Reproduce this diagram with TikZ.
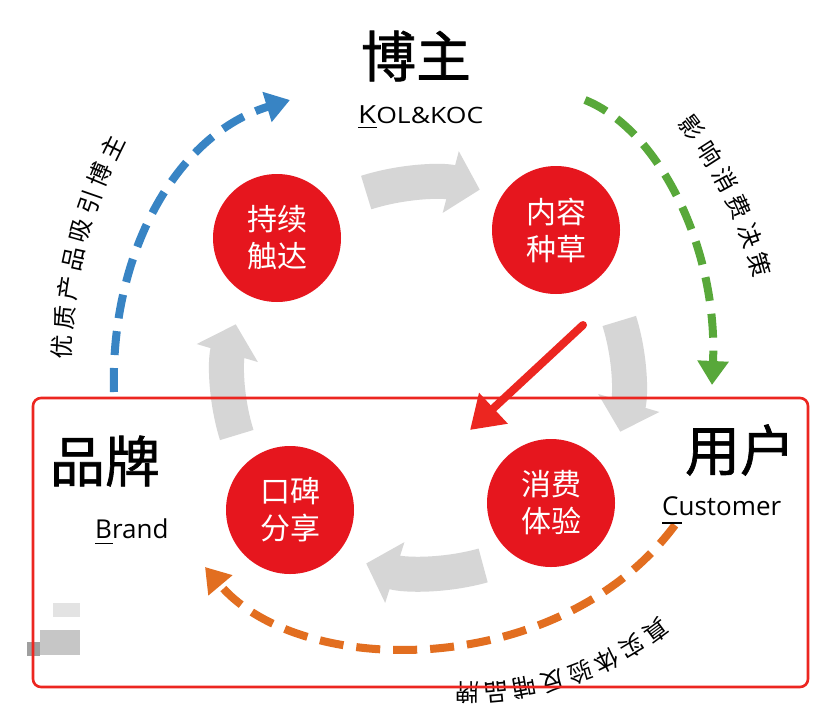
\documentclass[tikz,border=0pt]{standalone}
\usepackage{fontspec}
\usepackage{graphicx}
\newfontfamily\cjk{Noto Sans CJK SC}
\newfontfamily\cjkb[FakeBold=1.2]{Noto Sans CJK SC}
\newfontfamily\lat{Open Sans}
\usetikzlibrary{arrows.meta}
\definecolor{cred}{RGB}{230,22,30}
\definecolor{agray}{RGB}{214,214,214}
\definecolor{cblue}{RGB}{56,132,196}
\definecolor{cgreen}{RGB}{88,168,58}
\definecolor{corange}{RGB}{226,110,32}
\definecolor{bred}{RGB}{236,38,32}
\begin{document}
\begin{tikzpicture}[x=1pt,y=-1pt,
  stage/.style={circle, fill=cred, minimum size=128pt, inner sep=0pt, text=white, align=center, font=\cjk\fontsize{30}{37}\selectfont},
  cycarrow/.style={draw=agray, line width=35pt, -{Triangle[width=62pt,length=30pt]}},
  flow/.style={line width=8pt, dash pattern=on 24pt off 13pt, -{Triangle[width=30pt,length=24pt]}},
  title/.style={font=\cjkb\fontsize{55}{55}\selectfont, inner sep=0pt},
  sub/.style={font=\lat\fontsize{26}{26}\selectfont, anchor=base west, inner sep=0pt},
  arctext/.style={font=\cjk\fontsize{24}{24}\selectfont, inner sep=0pt},
  redarrow/.style={draw=bred, line width=8pt, line cap=round, -{Triangle[width=40pt,length=32pt]}},
]
\useasboundingbox (0,0) rectangle (829,717);
\fill[white] (0,0) rectangle (829,717);

% outer dashed flows
\coordinate (b0) at (114,392);
\coordinate (b1) at (290,100);
\coordinate (g0) at (585,100);
\coordinate (g1) at (712,385);
\coordinate (o0) at (675,525);
\coordinate (o1) at (205,567);
\draw[flow, draw=cblue] (b0) .. controls (110,255) and (175,135) .. (b1);
\draw[flow, draw=cgreen] (g0) .. controls (660,130) and (718,250) .. (g1);
\draw[flow, draw=corange] (o0) .. controls (560,680) and (300,680) .. (o1);

% gray cycle arrows
\coordinate (cc) at (428,378);
\draw[cycarrow] (cc) ++(-108:200 and 195) arc[start angle=-108, end angle=-75, x radius=200, y radius=195];
\draw[cycarrow] (cc) ++(-17:200 and 195) arc[start angle=-17, end angle=16, x radius=200, y radius=195];
\draw[cycarrow] (cc) ++(74:200 and 195) arc[start angle=74, end angle=108, x radius=200, y radius=195];
\draw[cycarrow] (cc) ++(163:200 and 195) arc[start angle=163, end angle=196, x radius=200, y radius=195];

% stages
\node[stage] (s1) at (277,238) {持续\\触达};
\node[stage] (s2) at (556,230) {内容\\种草};
\node[stage] (s3) at (551,503) {消费\\体验};
\node[stage] (s4) at (290,510) {口碑\\分享};

% titles
\node[title] (boz) at (416,56) {博主};
\node[title] (pp) at (105,461) {品牌};
\node[title] (yh) at (740,450) {用户};
\node[sub] (kol) at (358,123) {\scalebox{1.18}[1]{\fontsize{25}{25}\selectfont K\fontsize{22.5}{22.5}\selectfont OL\&KOC}};
\draw[line width=1.6pt] (358,127.5) -- (377,127.5);
\node[sub] (brand) at (95,538) {Brand};
\draw[line width=1.6pt] (95,543.5) -- (113,543.5);
\node[sub] (cust) at (662,515) {Customer};
\draw[line width=1.6pt] (662,523) -- (682,523);

% arc texts
\foreach \c [count=\i from 0] in {优,质,产,品,吸,引,博,主}{
  \pgfmathsetmacro\ang{182.1+3.43*\i}
  \node[arctext, rotate={270-\ang}] (lt\i) at ({555+493*cos(\ang)},{365+493*sin(\ang)}) {\c};
}
\foreach \c [count=\i from 0] in {影,响,消,费,决,策}{
  \pgfmathsetmacro\ang{-37.1+4.28*\i}
  \node[arctext, rotate={270-\ang}] (rt\i) at ({364+411*cos(\ang)},{376+411*sin(\ang)}) {\c};
}
\foreach \c [count=\i from 0] in {真,实,体,验,反,哺,品,牌}{
  \pgfmathsetmacro\ang{53.6+5.2*\i}
  \node[arctext, rotate={270-\ang}] (bt\i) at ({467+319*cos(\ang)},{374+319*sin(\ang)}) {\c};
}

% blurred blocks
\fill[gray!22] (53,603) rectangle (80,617);
\fill[gray!45] (40,630) rectangle (80,655);
\fill[gray!75] (27,642) rectangle (40,656);

% red highlight
\coordinate (ra0) at (583,325);
\coordinate (ra1) at (470,430);
\draw[redarrow] (ra0) -- (ra1);
\draw[bred, line width=2.6pt, rounded corners=8pt] (33,398) rectangle (808,687);
\end{tikzpicture}
\end{document}
